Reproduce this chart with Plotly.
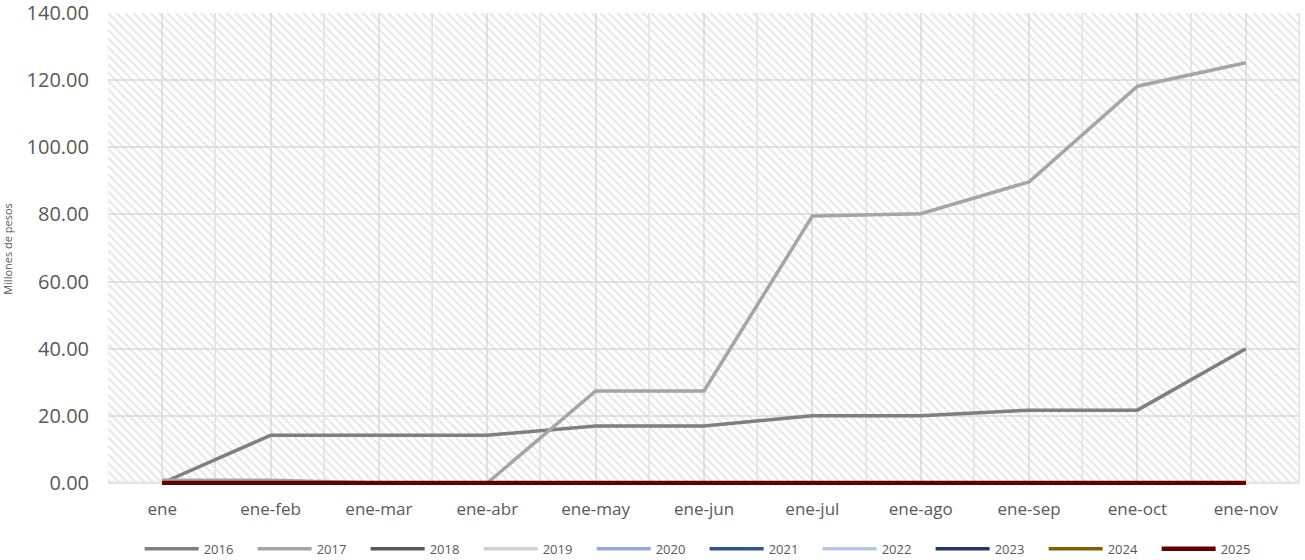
import plotly.graph_objects as go

# Meses acumulados
categorias = ["ene", "ene-feb", "ene-mar", "ene-abr", "ene-may", "ene-jun",
              "ene-jul", "ene-ago", "ene-sep", "ene-oct", "ene-nov"]

# Valores por año (millones de pesos)
v2016 = [0, 14.2, 14.2, 14.2, 17.0, 17.0, 20.0, 20.0, 21.7, 21.7, 40.0]
v2017 = [0.8, 0.8, 0, 0, 27.4, 27.4, 79.5, 80.2, 89.7, 118.2, 125.2]
v2018 = [0] * 11
v2019 = [0] * 11
v2020 = [0] * 11
v2021 = [0] * 11
v2022 = [0] * 11
v2023 = [0] * 11
v2024 = [0] * 11
v2025 = [0] * 11

series = [
    ("2016", v2016, "#7f7f7f"),
    ("2017", v2017, "#a5a5a5"),
    ("2018", v2018, "#595959"),
    ("2019", v2019, "#d0d0d0"),
    ("2020", v2020, "#8eaadb"),
    ("2021", v2021, "#2f5597"),
    ("2022", v2022, "#b4c7e7"),
    ("2023", v2023, "#203864"),
    ("2024", v2024, "#7f6000"),
    ("2025", v2025, "#630000"),
]

y_max = 140

fig = go.Figure()

# Fondo rayado del área de trazado
fig.add_trace(go.Bar(
    x=categorias, y=[y_max] * len(categorias),
    width=1,
    marker=dict(
        color="rgba(0,0,0,0)",
        line=dict(color="#e3e3e3", width=1.5),
        pattern=dict(shape="\\", fgcolor="#cfcfcf", bgcolor="rgba(0,0,0,0)",
                     size=6, solidity=0.35),
    ),
    showlegend=False, hoverinfo="skip",
))

for nombre, valores, color in series:
    fig.add_trace(go.Scatter(
        x=categorias, y=valores, mode="lines", name=nombre,
        line=dict(color=color, width=4.5 if nombre == "2025" else 3.5),
    ))

# el rango baja un poco de 0 para que la línea en cero no quede recortada
fig.update_layout(
    width=1305, height=560,
    margin=dict(l=108, r=5, t=13, b=75),
    plot_bgcolor="white",
    paper_bgcolor="white",
    font=dict(family="Open Sans", color="#595959"),
    bargap=0,
    xaxis=dict(
        type="category", automargin=False,
        range=[-0.5, len(categorias) - 0.5],
        showgrid=True, gridcolor="#e3e3e3", gridwidth=1.5,
        showline=False, zeroline=False,
        ticks="", tickfont=dict(size=17, color="#595959"),
        ticklabelstandoff=12,
    ),
    yaxis=dict(
        automargin=False,
        range=[-0.6, y_max], tick0=0, dtick=20, tickformat=".2f",
        showgrid=True, gridcolor="#e3e3e3", gridwidth=1.5,
        zeroline=False, showline=False,
        tickfont=dict(size=20, color="#595959"),
        ticklabelstandoff=18, ticklabeloverflow="allow",
        title=dict(text="Millones de pesos", font=dict(size=11, color="#595959"),
                   standoff=20),
    ),
    legend=dict(
        orientation="h", xref="container", x=0.107, xanchor="left",
        yref="container", y=0.02, yanchor="middle",
        font=dict(size=13, color="#595959"),
        itemwidth=54, entrywidth=44, tracegroupgap=0,
        bgcolor="rgba(0,0,0,0)",
    ),
)

# quitar el margen por defecto del body para que la figura ocupe la ventana
fig.write_html("out.html", config={"displayModeBar": False},
               post_script="document.body.style.margin='0';")
